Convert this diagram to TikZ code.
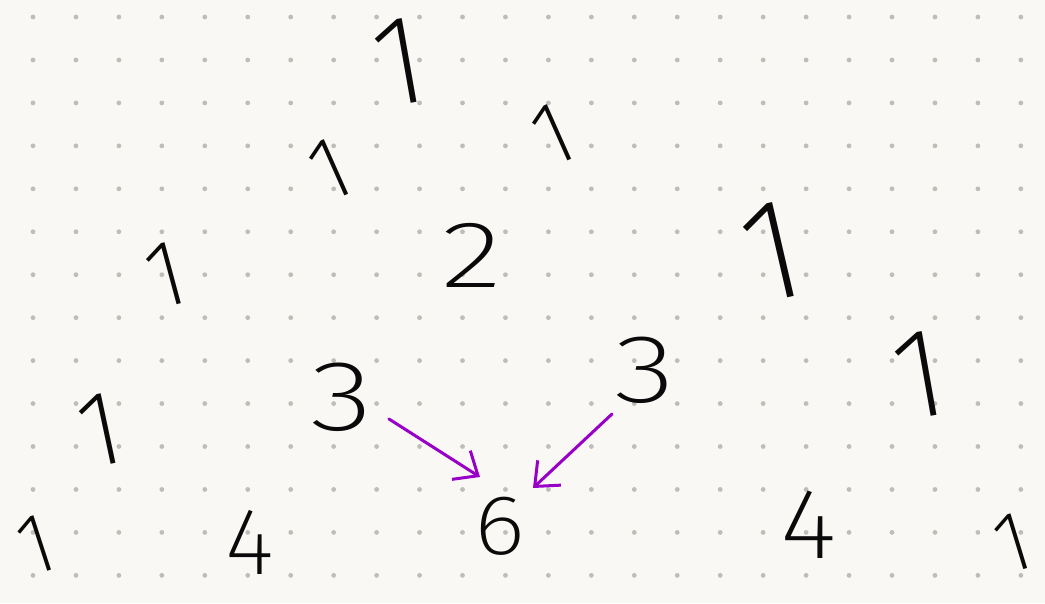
\documentclass[tikz,border=0pt]{standalone}
\usepackage{fontspec}
\newfontfamily\hand{Fira Sans ExtraLight}
\usetikzlibrary{arrows.meta}
\definecolor{paper}{RGB}{250,248,244}
\definecolor{dotc}{RGB}{192,189,184}
\definecolor{ink}{RGB}{10,10,10}
\definecolor{pen}{RGB}{152,0,200}
\begin{document}
\begin{tikzpicture}[x=1pt,y=-1pt,
  dig/.style={inner sep=0pt, text=ink, font=\hand\fontsize{#1}{#1}\selectfont},
  arr/.style={draw=pen, line width=3pt, line cap=round, line join=round,
    -{Straight Barb[length=20pt,width=34pt,line width=3pt]}}]
\useasboundingbox (0,0) rectangle (1045,603);
\fill[paper] (0,0) rectangle (1045,603);
\foreach \i in {0,...,23}
  \foreach \j in {0,...,13}
    \fill[dotc] (33+42.95*\i,17+42.95*\j) circle (2.4pt);
% row 0
\node[dig=128, rotate=10] (a0) at (400,62) {1};
% row 1
\node[dig=90, rotate=24] (b0) at (330,170) {1};
\node[dig=90, rotate=24] (b1) at (553,135) {1};
% row 2
\node[dig=95, rotate=15] (c0) at (166,275) {1};
\node[dig=95, xscale=1.35] (c1) at (472,255) {2};
\node[dig=145, rotate=13] (c2) at (772,252) {1};
% row 3
\node[dig=107, rotate=12] (d0) at (100,430) {1};
\node[dig=100, xscale=1.3] (d1) at (342,397) {3};
\node[dig=97, xscale=1.3] (d2) at (645,370) {3};
\node[dig=128, rotate=10] (d3) at (920,375) {1};
% row 4
\node[dig=86, rotate=18] (e0) at (36,545) {1};
\node[dig=95] (e1) at (250,542) {4};
\node[dig=85, xscale=1.15] (e2) at (500,526) {6};
\node[dig=100, xscale=1.1] (e3) at (809,525) {4};
\node[dig=86, rotate=17] (e4) at (1013,543) {1};
% arrows
\draw[arr] ([shift={(47,22)}]d1.center) -- ([shift={(-20,-49)}]e2.center);
\draw[arr] ([shift={(-33,44)}]d2.center) -- ([shift={(33,-38)}]e2.center);
\end{tikzpicture}
\end{document}
